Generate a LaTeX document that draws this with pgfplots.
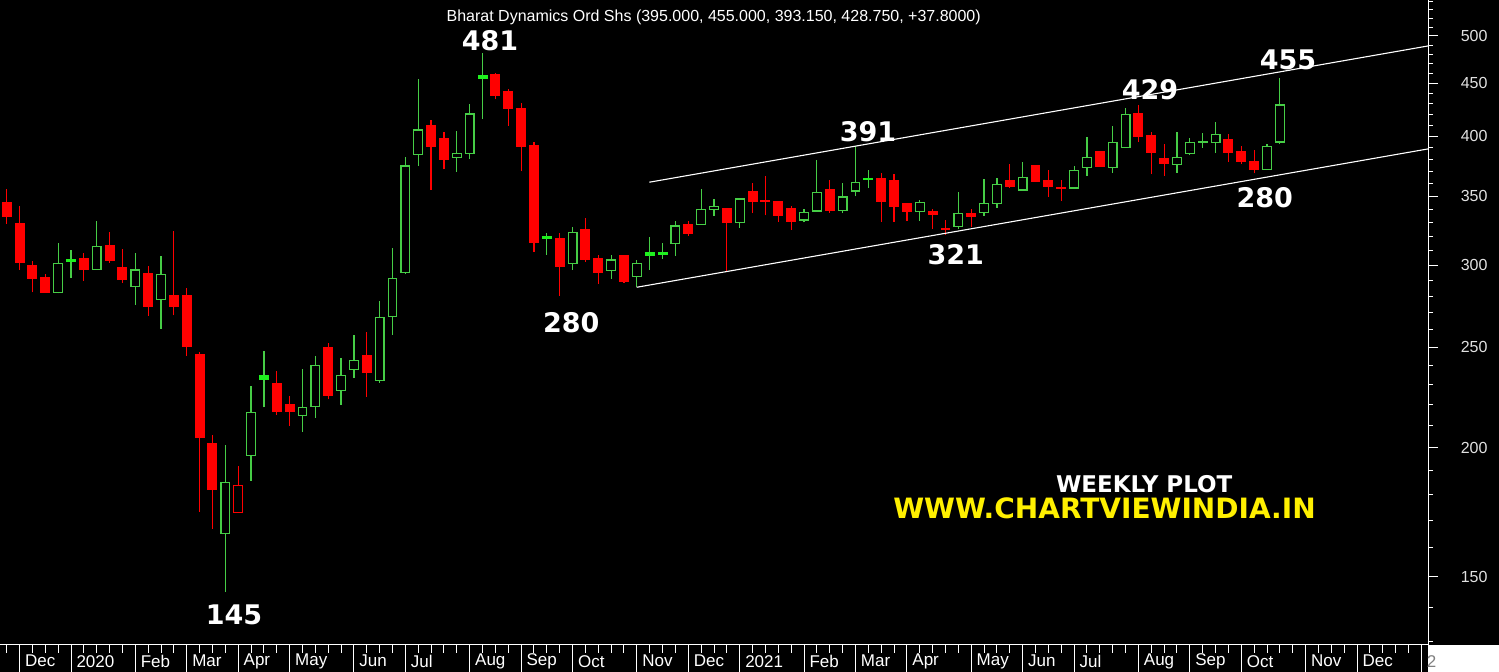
\documentclass[border=0pt]{standalone}
\usepackage{pgfplots}
\pgfplotsset{compat=1.18}
\usepackage{pgfplotstable}
\usepackage{fontspec}
\setmainfont{Liberation Sans}
\newfontfamily\dejavu{DejaVu Sans}

\definecolor{cred}{RGB}{255,0,0}
\definecolor{cgreen}{RGB}{70,205,70}
\definecolor{cbright}{RGB}{30,240,30}
\definecolor{cyellow}{RGB}{255,240,0}
\definecolor{clabel}{RGB}{225,225,225}

% weekly candles: o h l c, s = 0 red filled, 1 green hollow, 2 green filled, 3 red hollow
\pgfplotstableread{
i o h l c s
0 345.3 355.5 329.1 334.4 0
1 329.1 342.5 297.0 301.9 0
2 299.7 303.0 282.6 291.2 0
3 291.8 294.2 282.5 282.8 0
4 282.4 315.6 282.0 301.5 1
5 303.0 310.6 291.6 304.2 2
6 304.4 308.3 290.0 297.7 0
7 297.2 331.3 297.0 313.1 1
8 313.4 323.0 301.9 303.7 0
9 298.3 311.3 288.8 290.7 0
10 286.2 308.7 274.8 297.0 1
11 294.4 299.7 268.1 274.1 0
12 278.2 306.4 260.5 294.2 1
13 280.8 324.2 268.5 274.1 0
14 280.3 285.4 245.5 250.4 0
15 245.9 247.5 173.5 204.5 0
16 201.7 205.6 166.9 182.3 0
17 165.3 201.3 145.0 185.2 1
18 173.1 192.1 173.0 183.9 3
19 196.7 229.4 185.8 216.4 1
20 234.9 248.1 218.8 232.9 2
21 230.5 237.3 215.0 216.9 0
22 220.1 224.6 209.9 216.7 0
23 215.0 238.4 207.2 218.8 1
24 219.1 245.3 213.7 239.9 1
25 249.7 252.7 222.7 224.9 0
26 227.1 244.4 220.0 234.9 1
27 238.1 257.0 233.4 243.0 1
28 245.3 258.9 224.1 236.3 0
29 232.1 277.4 231.0 267.3 1
30 267.7 311.8 257.0 291.2 1
31 295.2 381.7 294.2 374.4 1
32 383.9 453.9 374.4 405.6 1
33 409.2 414.7 354.9 391.4 0
34 397.6 404.1 371.6 379.7 0
35 381.4 404.7 369.6 385.1 1
36 384.8 429.5 380.2 420.3 1
37 457.4 481.0 415.4 455.3 2
38 458.3 460.2 434.3 437.8 0
39 441.7 444.3 409.5 425.1 0
40 425.7 430.4 370.2 390.8 0
41 391.4 395.2 309.4 315.6 0
42 319.9 322.8 307.1 318.4 2
43 318.7 322.3 280.5 299.2 0
44 301.5 327.1 297.0 323.0 1
45 325.2 333.3 302.6 304.4 0
46 304.4 307.1 287.9 295.5 0
47 296.5 307.1 291.2 303.7 1
48 306.4 306.6 288.8 289.4 0
49 292.7 303.7 285.8 301.5 1
50 309.0 319.4 297.0 306.6 2
51 309.0 315.6 304.2 307.3 2
52 315.2 331.3 306.6 327.6 1
53 328.9 331.5 320.6 322.5 0
54 328.9 355.7 328.5 339.9 1
55 339.6 347.9 335.1 342.2 1
56 340.7 341.0 296.5 330.0 0
57 330.3 348.5 326.4 347.9 1
58 353.3 360.2 337.4 345.8 0
59 346.5 366.1 335.4 345.9 0
60 345.6 345.8 330.7 335.1 0
61 340.7 342.5 324.7 330.7 0
62 332.0 340.1 330.3 337.7 1
63 338.7 379.4 338.0 353.1 1
64 355.5 362.9 337.4 339.4 0
65 338.9 360.2 337.0 349.4 1
66 354.1 391.0 349.8 361.0 1
67 363.4 371.0 356.3 363.9 2
68 364.3 368.8 330.7 345.8 0
69 362.1 367.5 330.7 341.9 0
70 344.0 344.2 331.3 338.1 0
71 338.1 347.1 331.5 345.1 1
72 338.1 339.9 325.2 336.2 0
73 325.4 332.0 321.0 325.0 0
74 327.1 353.1 325.2 337.0 1
75 336.4 340.1 327.1 334.9 0
76 337.7 363.7 335.1 344.6 1
77 344.6 364.8 341.1 359.4 1
78 362.1 375.8 356.3 357.5 0
79 354.9 377.5 354.6 365.1 1
80 374.4 374.8 361.2 361.5 0
81 362.1 371.0 349.6 357.5 0
82 356.4 363.3 346.3 355.8 0
83 356.5 374.4 355.5 370.8 1
84 373.3 399.6 366.1 381.7 1
85 387.0 387.4 373.8 374.4 0
86 373.0 409.2 368.8 394.7 1
87 390.3 426.2 390.0 420.0 1
88 420.9 429.0 395.2 399.6 0
89 400.5 403.6 367.7 385.9 0
90 380.2 392.9 366.4 376.6 0
91 375.8 404.1 368.8 381.7 1
92 385.1 398.5 383.6 394.7 1
93 395.0 403.2 390.0 395.4 1
94 394.7 413.1 385.6 401.7 1
95 397.3 401.7 378.0 385.9 0
96 387.0 391.4 376.0 378.0 0
97 377.7 387.9 368.3 371.8 0
98 371.6 393.2 371.0 390.8 1
99 395.0 455.0 393.15 428.75 1
}\candles

\pgfplotsset{
  wick0/.style={color=cred, line width=1.2bp},
  wick1/.style={color=cgreen, line width=1.2bp},
  wick2/.style={color=cgreen, line width=1.2bp},
  wick3/.style={color=cred, line width=1.2bp},
  body0/.style={draw=cred, fill=cred, line width=1.2bp},
  body1/.style={draw=cgreen, fill=black, line width=1.2bp},
  body2/.style={draw=cbright, fill=cbright, line width=1.2bp},
  body3/.style={draw=cred, fill=black, line width=1.2bp},
}

\begin{document}
\begin{tikzpicture}
\fill[black] (0,0) rectangle (1499bp,672bp);
\fill[white] (1428bp,0) rectangle (1499bp,27bp);
\begin{axis}[
  at={(0bp,27bp)}, anchor=south west,
  scale only axis, width=1428bp, height=645bp,
  xmin=-0.521, xmax=110.52,
  ymode=log, ymin=128.9, ymax=541.7,
  axis x line*=bottom, axis y line*=right,
  axis line style={white, line width=1bp, -},
  tick align=outside,
  xtick={1,5,10,14,18,22,27,31,36,40,44,49,53,57,62,66,70,75,79,83,88,92,96,101,105,110},
  xticklabels={Dec,2020,Feb,Mar,Apr,May,Jun,Jul,Aug,Sep,Oct,Nov,Dec,2021,Feb,Mar,Apr,May,Jun,Jul,Aug,Sep,Oct,Nov,Dec,\textcolor{gray}{2}},
  minor xtick={0,...,110},
  ytick={150,200,250,300,350,400,450,500},
  yticklabels={150,200,250,300,350,400,450,500},
  minor ytick={130,140,160,170,180,190,210,220,230,240,260,270,280,290,310,320,330,340,360,370,380,390,410,420,430,440,460,470,480,490,510,520,530,540},
  xtick style={white, line width=1bp, /pgfplots/major tick length=27bp, /pgfplots/minor tick length=8bp},
  ytick style={white, line width=1bp, /pgfplots/major tick length=10bp, /pgfplots/minor tick length=5bp},
  xticklabel style={font=\fontsize{17bp}{17bp}\selectfont, text=white, anchor=west, xshift=2bp, yshift=-12bp},
  yticklabel style={font=\fontsize{16bp}{16bp}\selectfont, text=clabel, anchor=west, xshift=25bp},
]
\pgfplotsinvokeforeach{0,...,99}{%
  \pgfplotstablegetelem{#1}{o}\of\candles\let\cO\pgfplotsretval
  \pgfplotstablegetelem{#1}{h}\of\candles\let\cH\pgfplotsretval
  \pgfplotstablegetelem{#1}{l}\of\candles\let\cL\pgfplotsretval
  \pgfplotstablegetelem{#1}{c}\of\candles\let\cC\pgfplotsretval
  \pgfplotstablegetelem{#1}{s}\of\candles\let\cS\pgfplotsretval
  \pgfmathsetmacro\xa{#1-0.34}%
  \pgfmathsetmacro\xb{#1+0.34}%
  \edef\temp{%
    \noexpand\addplot[wick\cS] coordinates {(#1,\cL) (#1,\cH)};
    \noexpand\addplot[body\cS] coordinates {(\xa,\cO) (\xb,\cO) (\xb,\cC) (\xa,\cC)} --cycle;
  }\temp
}
% channel lines
\addplot[white, line width=1.1bp] coordinates {(49.97,361.1) (110.52,489.0)};
\addplot[white, line width=1.1bp] coordinates {(48.99,285.8) (110.52,388.9)};
\end{axis}

\node[text=white, inner sep=0pt, font=\fontsize{16bp}{16bp}\selectfont] at (713.7bp,655bp)
  {Bharat Dynamics Ord Shs (395.000, 455.000, 393.150, 428.750, +37.8000)};
\begin{scope}[every node/.style={text=white, inner sep=0pt, font=\dejavu\bfseries\fontsize{27bp}{27bp}\selectfont}]
\node at (490bp,631bp) {481};
\node at (234bp,57bp) {145};
\node at (571.3bp,349bp) {280};
\node at (868bp,540bp) {391};
\node at (955.8bp,417bp) {321};
\node at (1150bp,582bp) {429};
\node at (1288bp,612bp) {455};
\node at (1264.7bp,474.5bp) {280};
\end{scope}
\node[text=white, inner sep=0pt, font=\dejavu\bfseries\fontsize{23bp}{23bp}\selectfont] at (1144.2bp,187.8bp) {WEEKLY PLOT};
\node[text=cyellow, inner sep=0pt, font=\dejavu\bfseries\fontsize{28bp}{28bp}\selectfont] at (1104.5bp,163.7bp) {WWW.CHARTVIEWINDIA.IN};
\pgfresetboundingbox
\useasboundingbox (0,0) rectangle (1499bp,672bp);
\end{tikzpicture}
\end{document}
